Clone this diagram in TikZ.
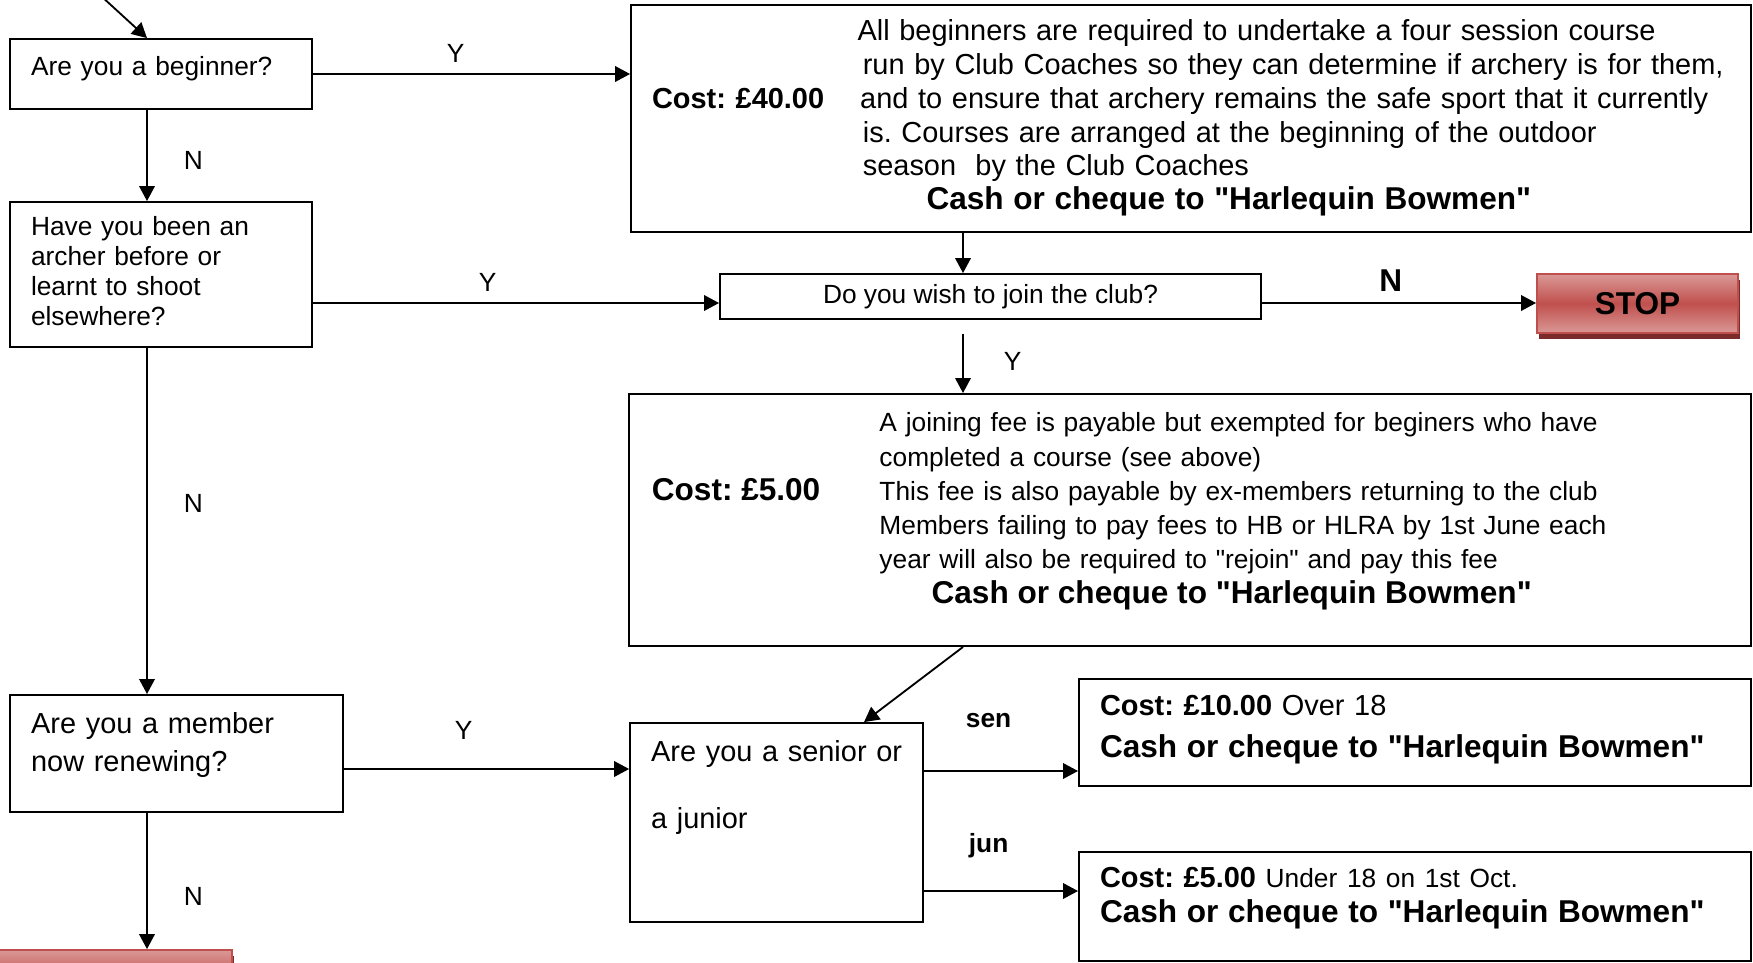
\documentclass[tikz,border=0pt]{standalone}
\usepackage{fontspec}
\setmainfont{Liberation Sans}
\usepackage{tikz}
\usetikzlibrary{arrows.meta, shadows}
\definecolor{stopred}{HTML}{C0504D}
\definecolor{stoplight}{HTML}{DA9896}
\definecolor{stopedge}{HTML}{BE4F4C}
\definecolor{stopshade}{HTML}{7B2C2A}
\frenchspacing
\newcommand{\cost}[1]{\textbf{Cost: £#1}}
\newcommand{\payto}{\textbf{\fontsize{12}{14}\selectfont Cash or cheque to \textquotedbl Harlequin Bowmen\textquotedbl}}

\begin{document}
\begin{tikzpicture}[
		x=0.38pt, y=-0.38pt,
		->,
		>={Triangle[length=5.7pt, width=5.9pt]},
		line width=0.7pt,
		box/.style={draw, rectangle, inner xsep=8pt, inner ysep=0pt, align=left, font=\fontsize{10}{12}\selectfont},
		stopbox/.style={draw=stopedge, rectangle, top color=stoplight, bottom color=stoplight, middle color=stopred,
			drop shadow={shadow xshift=0.8pt, shadow yshift=-2.3pt, fill=stopshade, opacity=1},
			minimum width=76.4pt, minimum height=22.4pt, inner sep=0pt, font=\bfseries\fontsize{12}{14}\selectfont},
		yn/.style={inner sep=0pt, font=\fontsize{10}{12}\selectfont},
		gap/.style={yn, anchor=south, fill=white, inner ysep=4pt, minimum width=25.5pt},
		tag/.style={inner sep=0pt, anchor=base, font=\bfseries\fontsize{10}{12}\selectfont}]

	\useasboundingbox (0,0) rectangle (1753,962);
	\clip (0,0) rectangle (1753,962);

	% lines the connectors run along
	\coordinate (spine) at (147,0);
	\coordinate (col) at (963,0);
	\coordinate (agetop) at (864,0);
	\coordinate (entry) at (100,-5);
	\coordinate (joinrow) at (0,303);
	\coordinate (memrow) at (0,769);
	\coordinate (senrow) at (0,771);
	\coordinate (junrow) at (0,891);

	% questions down the left
	\node[box, text width=98.8pt, minimum width=114.8pt, minimum height=26.6pt] (begin) at (161,74)
		{\begin{tabular}{@{}l@{}}Are you a beginner?\\[3.3pt]\end{tabular}};
	\node[box, font=\fontsize{10}{11.5}\selectfont, text width=98.8pt, minimum width=114.8pt, minimum height=55.1pt] (archer) at (161,274.5)
		{\begin{tabular}{@{}l@{}}Have you been an\\archer before or\\learnt to shoot\\elsewhere?\end{tabular}};
	\node[box, font=\fontsize{11}{14.8}\selectfont, text width=110.5pt, minimum width=126.5pt, minimum height=44.5pt] (member) at (176.5,753.5)
		{\begin{tabular}{@{}l@{}}Are you a member\\now renewing?\\[6.7pt]\end{tabular}};
	\node[stopbox, minimum width=88.9pt] (stop2) at (115,979.5) {};

	% beginners course
	\node[box, font=\fontsize{11}{12.84}\selectfont, text width=409.6pt, minimum width=425.6pt, minimum height=86.3pt] (course) at (1191,118.5)
		{\begin{tabular}{@{}p{78.1pt}@{}l@{}}
		 & All beginners are required to undertake a four session course\\
		 & \hspace{2pt}run by Club Coaches so they can determine if archery is for them,\\
		\cost{40.00} & \hspace{1pt}and to ensure that archery remains the safe sport that it currently\\
		 & \hspace{2pt}is. Courses are arranged at the beginning of the outdoor\\
		 & \hspace{2pt}season\ \ by the Club Coaches\\
		 & \hspace{26.2pt}\payto
		\end{tabular}};

	\node[box, inner xsep=0pt, minimum width=205.6pt, minimum height=17.1pt] (join) at (990.5,296.5) {Do you wish to join the club?};
	\node[stopbox] (stop) at (1637.5,303.5) {STOP};

	% joining fee
	\node[box, inner xsep=8.7pt, font=\fontsize{10}{13}\selectfont, text width=409pt, minimum width=426.4pt, minimum height=95.8pt] (fee) at (1190,520)
		{\begin{tabular}{@{}p{86.5pt}@{}l@{}}
		 & A joining fee is payable but exempted for beginers who have\\
		 & completed a course (see above)\\
		\fontsize{12}{13}\selectfont\cost{5.00} & This fee is also payable by ex-members returning to the club\\
		 & Members failing to pay fees to HB or HLRA by 1st June each\\
		 & year will also be required to \textquotedbl rejoin\textquotedbl{} and pay this fee\\
		 & \hspace{19.8pt}\payto\\[7.1pt]
		\end{tabular}};

	% membership by age
	\node[box, font=\fontsize{11}{12.5}\selectfont, text width=95.3pt, minimum width=111.3pt, minimum height=75.6pt] (age) at (776.5,822.5)
		{\begin{tabular}{@{}l@{}}Are you a senior or\\[12.6pt]a junior\\[25.9pt]\end{tabular}};
	\node[box, font=\fontsize{11}{15.6}\selectfont, text width=239.4pt, minimum width=255.4pt, minimum height=40.7pt] (senior) at (1415,732.5)
		{\begin{tabular}{@{}l@{}}\cost{10.00} Over 18\\\payto\\[3.2pt]\end{tabular}};
	\node[box, font=\fontsize{11}{13.3}\selectfont, text width=239.4pt, minimum width=255.4pt, minimum height=41.4pt] (junior) at (1415,906.5)
		{\begin{tabular}{@{}l@{}}\cost{5.00} {\fontsize{10}{12}\selectfont Under 18 on 1st Oct.}\\\payto\\[6.1pt]\end{tabular}};

	\path	(entry) edge (begin.north -| spine)
			(begin.east) edge node[gap, pos=.45] {Y} (begin.east -| course.west)
			(begin.south -| spine) edge node[yn, right=13.7pt, pos=.55] {N} (archer.north -| spine);

	\path	(archer.east |- joinrow) edge node[gap, pos=.43] {Y} (join.west |- joinrow)
			(archer.south -| spine) edge node[yn, right=13.7pt, pos=.45] {N} (member.north -| spine);

	\path	(course.south -| col) edge (join.north -| col)
			(join.east |- joinrow) edge node[gap, font=\bfseries\fontsize{12}{14}\selectfont, pos=.47] {N} (stop.west |- joinrow)
			(join.south -| col) edge[shorten <=5.3pt] node[yn, right=15.2pt, pos=.57] {Y} (fee.north -| col);

	\path	(fee.south -| col) edge (age.north -| agetop)
			(member.east |- memrow) edge node[yn, above=11pt, pos=.42] {Y} (age.west |- memrow)
			(member.south -| spine) edge node[yn, right=13.7pt, pos=.61] {N} (stop2.north -| spine);

	\path	(age.east |- senrow) edge node[tag, pos=.42, yshift=16.7pt] {sen} (senior.west |- senrow)
			(age.east |- junrow) edge node[tag, pos=.42, yshift=14.8pt] {jun} (junior.west |- junrow);

\end{tikzpicture}
\end{document}
